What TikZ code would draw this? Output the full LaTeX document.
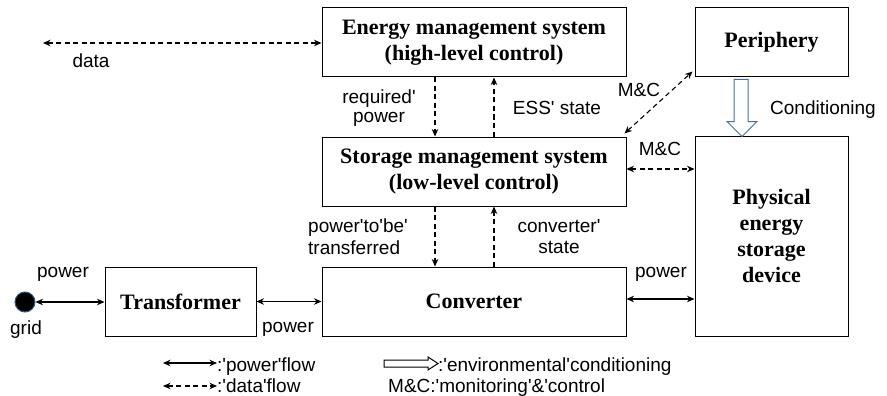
\documentclass[tikz,border=0pt]{standalone}
\usepackage{fontspec}
\setmainfont{Liberation Serif}
\setsansfont{Liberation Sans}[Ligatures=TeXOff]
\usetikzlibrary{arrows.meta,calc}
\definecolor{condblue}{HTML}{41719C}
\definecolor{gridblue}{HTML}{2E5A88}
\begin{document}
\begin{tikzpicture}[x=1pt,y=-1pt,
  box/.style={draw,line width=1pt,inner sep=0pt,align=center,
    font=\bfseries\fontsize{22}{26}\selectfont},
  lab/.style={font=\sffamily\fontsize{19}{21}\selectfont,inner sep=0pt,anchor=base},
  labw/.style={lab,anchor=base west},
  tip/.tip={Stealth[length=7.5pt,width=6.5pt]},
  pw/.style={line width=1.1pt,tip-tip},
  dat/.style={line width=1.1pt,dash pattern=on 5pt off 3.5pt,tip-tip},
  datd/.style={line width=1.1pt,dash pattern=on 5pt off 3.5pt,-tip},
  hollow/.style={line width=1pt,fill=white,line join=miter}]
\useasboundingbox (0,0) rectangle (887,396);

% boxes
\node[box,minimum width=304pt,minimum height=69pt] (ems) at (474,42.5)
  {Energy management system\\(high-level control)};
\node[box,minimum width=153pt,minimum height=69pt] (per) at (771.5,42.5) {Periphery};
\node[box,minimum width=304pt,minimum height=69pt] (sms) at (474,171.5)
  {Storage management system\\(low-level control)};
\node[box,minimum width=153pt,minimum height=200pt] (phys) at (771.5,236)
  {Physical\\energy\\storage\\device};
\node[box,minimum width=304pt,minimum height=69pt] (conv) at (474,301.5) {Converter};
\node[box,minimum width=151pt,minimum height=69pt] (trans) at (180.5,301.5) {Transformer};
\node[circle,fill=black,draw=gridblue,line width=1pt,minimum size=20pt,inner sep=0pt] (grid) at (25,302) {};

% helper coordinates
\coordinate (xa) at (435,0);
\coordinate (xb) at (494,0);
\coordinate (dataend) at (43,43);

% data connectors
\draw[dat] (dataend) -- (dataend -| ems.west);
\draw[datd] (ems.south -| xa) -- (sms.north -| xa);
\draw[datd] (sms.north -| xb) -- (ems.south -| xb);
\draw[datd] (sms.south -| xa) -- (conv.north -| xa);
\draw[datd] (conv.north -| xb) -- (sms.south -| xb);
\draw[dat] ($(sms.north east)+(-2,-3)$) -- ($(per.south west)+(-2,-6)$);
\draw[dat] ([yshift=2.5pt]sms.east) -- ([yshift=2.5pt]sms.east -| phys.west);

% power connectors
\draw[pw] (grid.east) -- (grid.east -| trans.west);
\draw[pw] (trans.east) -- (conv.west);
\draw[pw] ([yshift=2.5pt]conv.east) -- ([yshift=2.5pt]conv.east -| phys.west);

% conditioning arrow
\draw[hollow,draw=condblue] ($(per.south)+(-37.5,2)$) -- ($(per.south)+(-23.5,2)$)
  -- ($(per.south)+(-23.5,44)$) -- ($(per.south)+(-14.5,44)$)
  -- ($(per.south)+(-29.5,59)$) -- ($(per.south)+(-44.5,44)$)
  -- ($(per.south)+(-37.5,44)$) -- cycle;

% labels
\node[lab] (ldata) at (91,68) {data};
\node[lab] (lreq1) at (379,103) {required'};
\node[lab] (lreq2) at (379,123) {power};
\node[lab] (less) at (557,114) {ESS' state};
\node[lab] (lmc1) at (639,97) {M\&C};
\node[lab] (lcond) at (823,114) {Conditioning};
\node[lab] (lmc2) at (660,155) {M\&C};
\node[labw] (lptb1) at (308,232) {power'to'be'};
\node[labw] (lptb2) at (308,254) {transferred};
\node[lab] (lcs1) at (559,232) {converter'};
\node[lab] (lcs2) at (559,253) {state};
\node[lab] (lpw1) at (661,277) {power};
\node[lab] (lpw2) at (63,277) {power};
\node[lab] (lgrid) at (26,334) {grid};
\node[lab] (lpw3) at (288,332) {power};

% legend
\coordinate (lg1a) at (163,363);
\coordinate (lg1b) at (217,363);
\coordinate (lg2a) at (163,386);
\coordinate (lg2b) at (217,386);
\draw[pw] (lg1a) -- (lg1b);
\draw[dat] (lg2a) -- (lg2b);
\node[labw] (leg1) at (217,371) {:'power'flow};
\node[labw] (leg2) at (217,392) {:'data'flow};
\draw[hollow,draw=black] (384,360) -- (428,360) -- (428,357) -- (438,363.5) -- (428,370)
  -- (428,367) -- (384,367) -- cycle;
\node[labw] (leg3) at (438,371) {:'environmental'conditioning};
\node[labw] (leg4) at (388,392) {M\&C:'monitoring'\&'control};
\end{tikzpicture}
\end{document}
